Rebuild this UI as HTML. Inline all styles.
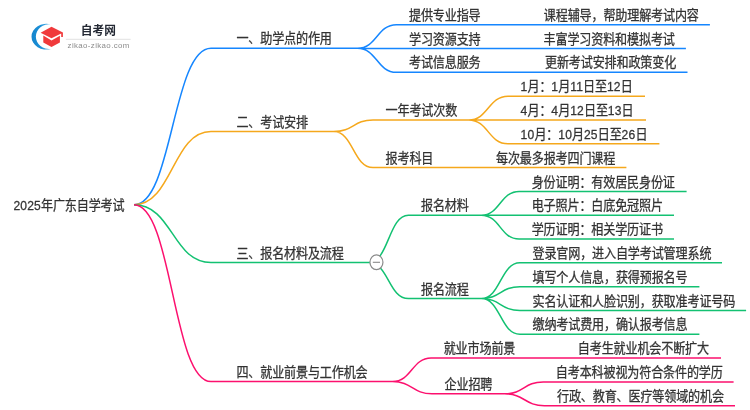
<!DOCTYPE html>
<html lang="zh-CN">
<head>
<meta charset="utf-8">
<title>2025年广东自学考试</title>
<style>
html,body{margin:0;padding:0;background:#fff;}
body{width:750px;height:410px;overflow:hidden;}
svg{display:block;}
svg text{font-family:"Liberation Sans","Noto Sans CJK SC",sans-serif;}
#lines path{fill:none;stroke-width:1.5;stroke-linecap:butt;stroke-linejoin:round;}
#labels text{fill:#333333;font-size:14.2px;letter-spacing:-0.2px;stroke:#333333;stroke-width:0.3px;stroke-linejoin:round;}
#labels .n{letter-spacing:0.2px;}
#labels .bt{font-size:12.3px;font-weight:bold;fill:#232833;letter-spacing:0.15px;stroke:none;}
#labels .bu{font-size:8.4px;fill:#8c8c8c;letter-spacing:0.4px;stroke:none;}
</style>
</head>
<body>
<svg width="750" height="410" viewBox="0 0 750 410">
<rect width="750" height="410" fill="#ffffff"/>
<defs><linearGradient id="cg" x1="0" y1="0" x2="1" y2="0"><stop offset="0" stop-color="#1585cc"/><stop offset="0.45" stop-color="#1b90d8"/><stop offset="1" stop-color="#5bb8ea"/></linearGradient></defs>
<g id="logo">
<path d="M51,24.5 A14.7,12.9 0 1 0 51,48.9 A13.1,12.35 0 1 1 51,24.5 Z" fill="url(#cg)"/>
<path d="M40.6,32.8 L51.5,26.7 L62.9,32.6 L62.9,37 L61.2,37 L61.2,33.5 L51.5,38.3 Z" fill="#f03a3c"/>
<path d="M43.3,35.6 L51.5,40.4 L59.9,35.8 L59.9,42.5 L51.5,47.1 L43.3,42.5 Z" fill="#f03a3c"/>
<line x1="65.9" y1="39.3" x2="130.6" y2="39.3" stroke="#dedede" stroke-width="0.9"/>
</g>
<g id="lines">
<path d="M134,204.8 C172.5,204.8 172.5,48.26 211,48.26 L357.5,48.26 M357.5,48.26 C376.95,48.26 376.95,24.75 396.4,24.75 L709.9,24.75 M357.5,48.26 C376.95,48.26 376.95,48.56 396.4,48.56 L685.9,48.56 M357.5,48.26 C376.95,48.26 376.95,72.37 396.4,72.37 L687.5,72.37" stroke="#1586ff"/>
<path d="M134,204.8 C172.5,204.8 172.5,131.59 211,131.59 L333.6,131.59 M333.6,131.59 C353.3,131.59 353.3,119.99 373,119.99 L468.6,119.99 M468.6,119.99 C488.3,119.99 488.3,96.18 508,96.18 L645,96.18 M468.6,119.99 L646,119.99 M468.6,119.99 C488.3,119.99 488.3,143.8 508,143.8 L659.4,143.8 M333.6,131.59 C353.3,131.59 353.3,167.61 373,167.61 L626.4,167.61" stroke="#f5a81c"/>
<path d="M134,204.8 C172.5,204.8 172.5,262.55 211,262.55 L368.8,262.55 M368.8,262.55 C388.6,262.55 388.6,215.23 408.4,215.23 L481.2,215.23 M481.2,215.23 C500.15,215.23 500.15,191.42 519.1,191.42 L686.6,191.42 M481.2,215.23 L674,215.23 M481.2,215.23 C500.15,215.23 500.15,239.04 519.1,239.04 L674,239.04 M368.8,262.55 C388.6,262.55 388.6,298.56 408.4,298.56 L481.2,298.56 M481.2,298.56 C500.55,298.56 500.55,262.85 519.9,262.85 L722,262.85 M481.2,298.56 C500.55,298.56 500.55,286.66 519.9,286.66 L699.4,286.66 M481.2,298.56 C500.55,298.56 500.55,310.47 519.9,310.47 L746.1,310.47 M481.2,298.56 C500.55,298.56 500.55,334.28 519.9,334.28 L699.4,334.28" stroke="#13c172"/>
<path d="M134,204.8 C172.5,204.8 172.5,381.6 211,381.6 L392.5,381.6 M392.5,381.6 C411.8,381.6 411.8,358.09 431.1,358.09 L721,358.09 M392.5,381.6 C412.25,381.6 412.25,393.81 432,393.81 L504.7,393.81 M504.7,393.81 C523.95,393.81 523.95,381.9 543.2,381.9 L733.6,381.9 M504.7,393.81 C524.55,393.81 524.55,405.71 544.4,405.71 L735,405.71" stroke="#fc106e"/>
</g>
<g id="toggle"><ellipse cx="376.45" cy="262.3" rx="6.5" ry="7.35" fill="#ffffff" stroke="#8a8a8a" stroke-width="1.2"/><line x1="372.8" y1="262.3" x2="380" y2="262.3" stroke="#8a8a8a" stroke-width="1.1"/></g>
<g id="labels" opacity="0.999">
<text class="bt" transform="translate(80.7,35.4) scale(0.95,0.98)">自考网</text>
<text class="bu" transform="translate(67.6,47.5) scale(0.94,0.94)">zikao-zikao.com</text>
<text transform="translate(13.4,210.3) scale(0.852,0.93)" style="font-size:14.2px"><tspan class="n">2025</tspan>年广东自学考试</text>
<text transform="translate(236.4,43.36) scale(0.852,0.93)">一、助学点的作用</text>
<text transform="translate(409,19.85) scale(0.852,0.93)">提供专业指导</text>
<text transform="translate(543.8,19.85) scale(0.852,0.93)">课程辅导，帮助理解考试内容</text>
<text transform="translate(409,43.66) scale(0.852,0.93)">学习资源支持</text>
<text transform="translate(543.6,43.66) scale(0.852,0.93)">丰富学习资料和模拟考试</text>
<text transform="translate(409,67.47) scale(0.852,0.93)">考试信息服务</text>
<text transform="translate(545,67.47) scale(0.852,0.93)">更新考试安排和政策变化</text>
<text transform="translate(236.4,126.69) scale(0.852,0.93)">二、考试安排</text>
<text transform="translate(385.6,115.09) scale(0.852,0.93)">一年考试次数</text>
<text transform="translate(520.6,91.28) scale(0.852,0.93)"><tspan class="n">1</tspan>月：<tspan class="n">1</tspan>月<tspan class="n">11</tspan>日至<tspan class="n">12</tspan>日</text>
<text transform="translate(520.6,115.09) scale(0.852,0.93)"><tspan class="n">4</tspan>月：<tspan class="n">4</tspan>月<tspan class="n">12</tspan>日至<tspan class="n">13</tspan>日</text>
<text transform="translate(520.6,138.9) scale(0.852,0.93)"><tspan class="n">10</tspan>月：<tspan class="n">10</tspan>月<tspan class="n">25</tspan>日至<tspan class="n">26</tspan>日</text>
<text transform="translate(385.6,162.71) scale(0.852,0.93)">报考科目</text>
<text transform="translate(496,162.71) scale(0.852,0.93)">每次最多报考四门课程</text>
<text transform="translate(236.4,257.65) scale(0.852,0.93)">三、报名材料及流程</text>
<text transform="translate(421,210.33) scale(0.852,0.93)">报名材料</text>
<text transform="translate(531.7,186.52) scale(0.852,0.93)">身份证明：有效居民身份证</text>
<text transform="translate(531.7,210.33) scale(0.852,0.93)">电子照片：白底免冠照片</text>
<text transform="translate(531.7,234.14) scale(0.852,0.93)">学历证明：相关学历证书</text>
<text transform="translate(421,293.67) scale(0.852,0.93)">报名流程</text>
<text transform="translate(532.5,257.95) scale(0.852,0.93)">登录官网，进入自学考试管理系统</text>
<text transform="translate(532.5,281.76) scale(0.852,0.93)">填写个人信息，获得预报名号</text>
<text transform="translate(532.5,305.57) scale(0.852,0.93)">实名认证和人脸识别，获取准考证号码</text>
<text transform="translate(532.5,329.38) scale(0.852,0.93)">缴纳考试费用，确认报考信息</text>
<text transform="translate(236.4,376.7) scale(0.852,0.93)">四、就业前景与工作机会</text>
<text transform="translate(443.7,353.19) scale(0.852,0.93)">就业市场前景</text>
<text transform="translate(577.8,353.19) scale(0.852,0.93)">自考生就业机会不断扩大</text>
<text transform="translate(444.6,388.91) scale(0.852,0.93)">企业招聘</text>
<text transform="translate(555.8,377) scale(0.852,0.93)">自考本科被视为符合条件的学历</text>
<text transform="translate(557,400.81) scale(0.852,0.93)">行政、教育、医疗等领域的机会</text>
</g>
</svg>
</body>
</html>
